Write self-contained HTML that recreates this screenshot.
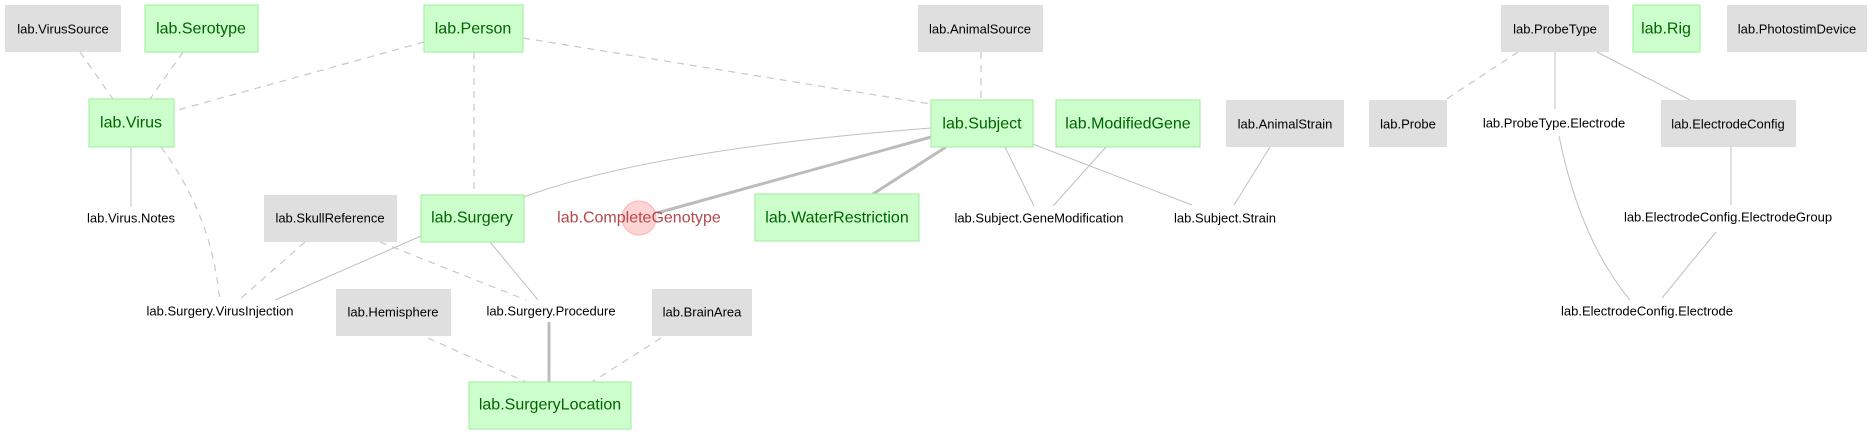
<!DOCTYPE html>
<html><head><meta charset="utf-8"><style>
html,body{margin:0;padding:0;background:#fff;}
svg{display:block;}
.g rect{fill:#ccffcc;stroke:#a8f0a8;stroke-width:1.2}
.gr{fill:#dfdfdf}
.gt{font:16px "Liberation Sans",sans-serif;fill:#006400;text-anchor:middle;dominant-baseline:central}
.kt{font:13px "Liberation Sans",sans-serif;fill:#000;text-anchor:middle;dominant-baseline:central}
.s{stroke:#c0c0c0;stroke-width:1;fill:none}
.d{stroke:#c8c8c8;stroke-width:1.2;fill:none;stroke-dasharray:7,6}
.t{stroke:#bcbcbc;stroke-width:3;fill:none}
</style></head><body>
<svg width="1876" height="436" viewBox="0 0 1876 436" xmlns="http://www.w3.org/2000/svg">
<!-- edges -->
<line class="d" x1="80" y1="52" x2="113" y2="99"/>
<line class="d" x1="183" y1="52" x2="150" y2="99"/>
<line class="d" x1="424" y1="42" x2="174" y2="111"/>
<line class="d" x1="474" y1="52" x2="474" y2="195"/>
<line class="d" x1="523" y1="38" x2="931" y2="104"/>
<line class="d" x1="981" y1="52" x2="981" y2="100"/>
<path class="d" d="M161,147 C200,200 215,250 220,302"/>
<line class="d" x1="305" y1="242" x2="239" y2="300"/>
<line class="d" x1="380" y1="242" x2="526" y2="300"/>
<line class="d" x1="428" y1="338" x2="526" y2="382"/>
<line class="d" x1="661" y1="338" x2="592" y2="382"/>
<line class="d" x1="1518" y1="52" x2="1445" y2="100"/>

<line class="s" x1="131" y1="147" x2="131" y2="207"/>
<path class="s" d="M931,128 Q650,150 524,197"/>
<line class="t" x1="931" y1="137" x2="657" y2="213"/>
<line class="t" x1="946" y1="147" x2="873" y2="194"/>
<line class="s" x1="421" y1="236" x2="275" y2="300"/>
<line class="s" x1="490" y1="242" x2="538" y2="300"/>
<line class="t" x1="549" y1="322" x2="549" y2="382"/>
<line class="s" x1="1005" y1="147" x2="1034" y2="206"/>
<line class="s" x1="1106" y1="147" x2="1053" y2="206"/>
<line class="s" x1="1030" y1="143" x2="1192" y2="205"/>
<line class="s" x1="1270" y1="147" x2="1234" y2="205"/>
<line class="s" x1="1555" y1="52" x2="1555" y2="109"/>
<line class="s" x1="1597" y1="52" x2="1690" y2="100"/>
<path class="s" d="M1559,136 Q1580,240 1630,300"/>
<line class="s" x1="1731" y1="147" x2="1731" y2="205"/>
<line class="s" x1="1716" y1="232" x2="1662" y2="298"/>

<!-- gray boxes -->
<rect class="gr" x="5" y="5" width="116" height="47"/><text class="kt" x="63" y="29">lab.VirusSource</text>
<rect class="gr" x="918" y="5" width="125" height="47"/><text class="kt" x="980" y="29">lab.AnimalSource</text>
<rect class="gr" x="1501" y="5" width="108" height="47"/><text class="kt" x="1555" y="29">lab.ProbeType</text>
<rect class="gr" x="1727" y="5" width="140" height="47"/><text class="kt" x="1797" y="29">lab.PhotostimDevice</text>
<rect class="gr" x="1226" y="100" width="118" height="47"/><text class="kt" x="1285" y="124">lab.AnimalStrain</text>
<rect class="gr" x="1369" y="100" width="78" height="47"/><text class="kt" x="1408" y="124">lab.Probe</text>
<rect class="gr" x="1661" y="100" width="135" height="47"/><text class="kt" x="1728" y="124">lab.ElectrodeConfig</text>
<rect class="gr" x="264" y="195" width="133" height="47"/><text class="kt" x="330" y="218">lab.SkullReference</text>
<rect class="gr" x="336" y="289" width="115" height="47"/><text class="kt" x="393" y="312">lab.Hemisphere</text>
<rect class="gr" x="652" y="289" width="100" height="47"/><text class="kt" x="702" y="312">lab.BrainArea</text>

<!-- green boxes -->
<g class="g">
<rect x="145" y="5" width="113" height="47"/>
<rect x="424" y="5" width="99" height="47"/>
<rect x="1633" y="5" width="67" height="47"/>
<rect x="89" y="99" width="85" height="48"/>
<rect x="931" y="100" width="102" height="47"/>
<rect x="1056" y="100" width="144" height="47"/>
<rect x="421" y="195" width="103" height="47"/>
<rect x="755" y="194" width="164" height="47"/>
<rect x="469" y="382" width="162" height="47"/>
</g>
<text class="gt" x="201" y="29">lab.Serotype</text>
<text class="gt" x="473" y="29">lab.Person</text>
<text class="gt" x="1666" y="29">lab.Rig</text>
<text class="gt" x="131" y="123">lab.Virus</text>
<text class="gt" x="982" y="124">lab.Subject</text>
<text class="gt" x="1128" y="124">lab.ModifiedGene</text>
<text class="gt" x="472" y="218">lab.Surgery</text>
<text class="gt" x="837" y="218">lab.WaterRestriction</text>
<text class="gt" x="550" y="405">lab.SurgeryLocation</text>

<!-- part tables -->
<text class="kt" x="131" y="218">lab.Virus.Notes</text>
<text class="kt" x="1039" y="218">lab.Subject.GeneModification</text>
<text class="kt" x="1225" y="218">lab.Subject.Strain</text>
<text class="kt" x="1554" y="123">lab.ProbeType.Electrode</text>
<text class="kt" x="1728" y="217">lab.ElectrodeConfig.ElectrodeGroup</text>
<text class="kt" x="220" y="311">lab.Surgery.VirusInjection</text>
<text class="kt" x="551" y="311">lab.Surgery.Procedure</text>
<text class="kt" x="1647" y="311">lab.ElectrodeConfig.Electrode</text>

<!-- computed -->
<circle cx="639" cy="218" r="17" fill="#ffcccc" stroke="#ffb0b0" stroke-width="1" fill-opacity="0.85"/>
<text x="639" y="218" style="font:16px 'Liberation Sans',sans-serif;fill:#b5484a;text-anchor:middle;dominant-baseline:central">lab.CompleteGenotype</text>
</svg>
</body></html>
